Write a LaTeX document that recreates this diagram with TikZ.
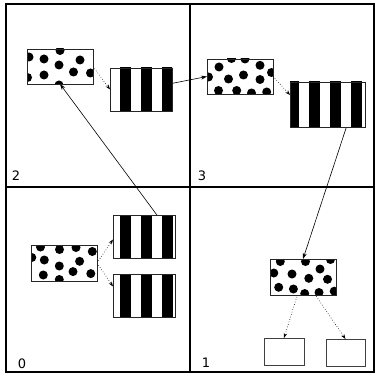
\documentclass[tikz,border=0pt]{standalone}
\usepackage{fontspec}
\setmainfont{DejaVu Sans}
\usetikzlibrary{arrows.meta,calc}
\pgfdeclarelayer{bg}
\pgfsetlayers{bg,main}
\tikzset{
  box/.style={rectangle, inner sep=0pt, outer sep=0pt, fill=white, draw=none},
  boxline/.style={draw=black!85, line width=0.9pt},
  wbox/.style={rectangle, inner sep=0pt, outer sep=0pt, fill=white, draw=black!75, line width=0.8pt},
  frame/.style={draw=black, line width=1.6pt},
  solidarrow/.style={draw=black, line width=0.6pt, -{Stealth[length=6pt,width=4pt]}},
  dotarrow/.style={draw=black, line width=0.6pt, dotted, -{Stealth[length=5pt,width=3.5pt]}},
  lbl/.style={font=\fontsize{13}{13}\selectfont, inner sep=0pt}
}
\newcommand\stripebox[1]{%
  \begin{scope}
    \clip (#1.south west) rectangle (#1.north east);
    \foreach \k in {0,...,13} \fill[black] ({99+21*\k},0) rectangle ++(10.5,377);
  \end{scope}
  \draw[boxline] (#1.south west) rectangle (#1.north east);}
\newcommand\dotbox[2]{%
  \begin{scope}
    \clip (#1.south west) rectangle (#1.north east);
    \foreach \x/\y in {#2} \fill[black] (\x,\y) circle (4.5pt);
  \end{scope}
  \draw[boxline] (#1.south west) rectangle (#1.north east);}
\begin{document}
\begin{tikzpicture}[x=1pt,y=-1pt]
\useasboundingbox (0,0) rectangle (377,377);
% boxes
\node[box, minimum width=66pt, minimum height=35pt] (d2) at (60,66.5) {};
\node[box, minimum width=62pt, minimum height=43pt] (s2) at (141,89.5) {};
\node[box, minimum width=66pt, minimum height=35pt] (d3) at (240,76.5) {};
\node[box, minimum width=75pt, minimum height=45pt] (s3) at (327.5,104.5) {};
\node[box, minimum width=66pt, minimum height=36pt] (d0) at (64,263) {};
\node[box, minimum width=62pt, minimum height=43pt] (s0a) at (144,236.5) {};
\node[box, minimum width=62pt, minimum height=43pt] (s0b) at (144,295.5) {};
\node[box, minimum width=66pt, minimum height=36pt] (d1) at (303,277) {};
\node[wbox, minimum width=40pt, minimum height=27pt] (w1) at (284,351.5) {};
\node[wbox, minimum width=39pt, minimum height=27pt] (w2) at (345.5,352.5) {};
% patterns
\dotbox{d2}{29/57,44/59,60/50.5,80/60,59/65,73.5/72,44/75,27.5/77.5,90.5/73,59/85}
\dotbox{d3}{219/67,231.5/58.5,245/59,260/65.3,208.5/77,228.5/79,243.5/75,260/79.5,271.5/72.5,218.5/90.5,236.7/90.5,251.5/93,266.7/92}
\dotbox{d0}{40.5/247,59.5/249.5,76/247.5,92.3/251.5,31.8/257.5,44.3/260,79.6/261.3,59.3/266,43.3/275,73/271.6,90.8/273.6,59.3/279.5}
\dotbox{d1}{280.3/261.5,305.5/261.5,330.5/259.5,273.8/273,292/274,320/269,308.8/278.3,327.5/279.3,278.7/287.3,293.4/289,304.7/293.5,319/292.5,334.2/291.2}
\stripebox{s2}
\stripebox{s3}
\stripebox{s0a}
\stripebox{s0b}
% labels
\node[lbl] (l2) at (16,176) {2};
\node[lbl] (l3) at (202,176) {3};
\node[lbl] (l0) at (22,364) {0};
\node[lbl] (l1) at (206,363) {1};
% connectors and frame behind
\begin{pgfonlayer}{bg}
\fill[white] (0,0) rectangle (377,377);
\draw[frame] (6,4) rectangle (374,372);
\draw[frame] (190,4) -- (190,372);
\draw[frame] (6,187) -- (374,187);
\coordinate (o3) at (354,104);
\coordinate (o0) at (168,230);
\coordinate (t3) at (290,95);
\coordinate (ta) at (113,239.5);
\coordinate (tb) at (113,286.5);
\draw[dotarrow] (d2.east) -- (s2.west);
\draw[solidarrow] (s2.center) -- (d3.west);
\draw[dotarrow] (d3.east) -- (t3);
\draw[solidarrow] (o3) -- (d1.north);
\draw[solidarrow] (o0) -- (d2.south);
\draw[dotarrow] (d0.east) -- (ta);
\draw[dotarrow] (d0.east) -- (tb);
\draw[dotarrow] (d1.center) -- (w1.north);
\draw[dotarrow] (d1.center) -- (w2.north);
\end{pgfonlayer}
\end{tikzpicture}
\end{document}
